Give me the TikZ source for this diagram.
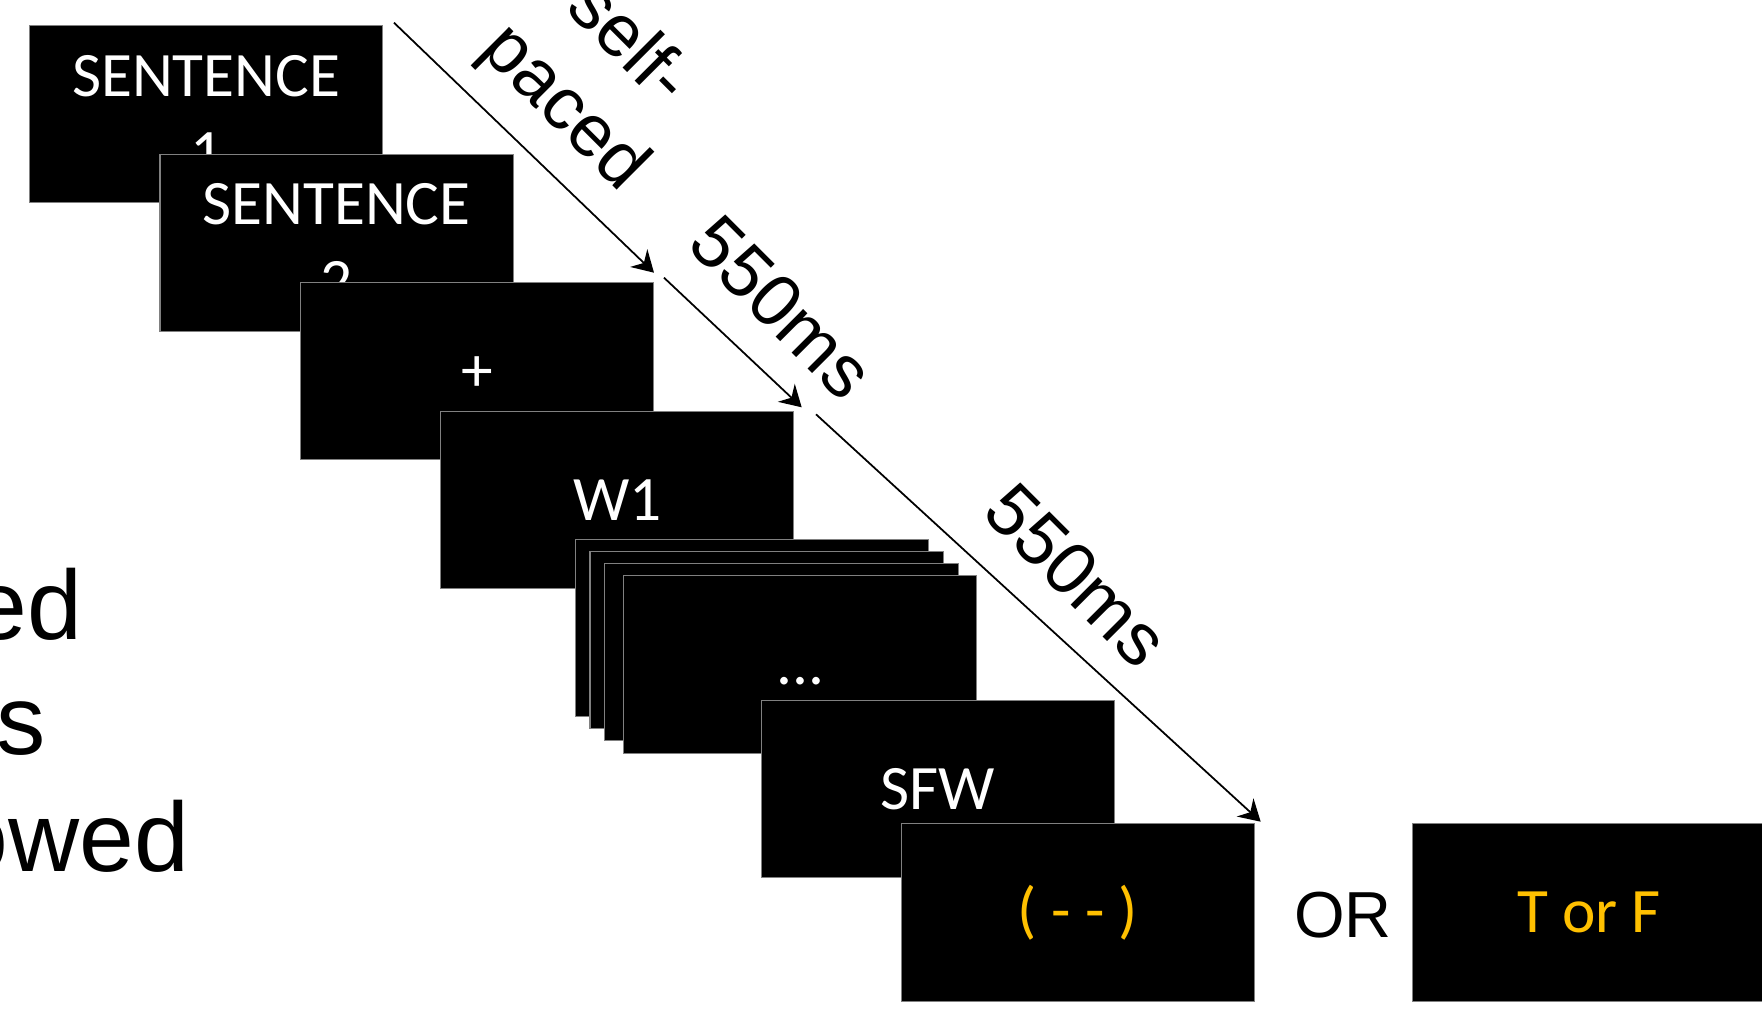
\documentclass[tikz,border=0pt]{standalone}
\usepackage{fontspec}
\setmainfont{Liberation Sans}
\newfontfamily\screenfont{Carlito}
\usetikzlibrary{arrows.meta}
\definecolor{respgold}{RGB}{255,192,0}

\begin{document}
\begin{tikzpicture}[x=0.01cm, y=-0.01cm,
        screen/.style={rectangle, draw=gray, line width=0.3pt, fill=black, text=white, minimum width=3.53cm, minimum height=1.77cm, inner sep=0pt, align=center, font=\screenfont\fontsize{18}{22}\selectfont},
        timing/.style={rotate=-45, align=center, inner sep=0pt, font=\fontsize{21}{25.6}\selectfont},
        tarrow/.style={-{Stealth[length=6pt, width=7pt, inset=2pt]}, line width=0.5pt},
        bigtext/.style={anchor=base east, inner sep=0pt, font=\fontsize{28}{32}\selectfont}
    ]
        \useasboundingbox (0,0) rectangle (1762,1012);

        % Text cut off at the left
        \node[bigtext] (l1) at (83,639) {ed};
        \node[bigtext] (l2) at (46,754) {s};
        \node[bigtext] (l3) at (190,871) {owed};

        % Sentences
        \node[screen] (sent1) at (206.2,114.3) {SENTENCE\\1};
        \node[screen] (sent2) at (336.6,243) {SENTENCE\\2};

        % Fixation and words
        \node[screen] (fix) at (477.2,371) {\vphantom{S}+};
        \node[screen] (word1) at (617.2,499.7) {W1};
        \node[screen] (wa) at (752.1,628) {};
        \node[screen] (wb) at (766.6,640.4) {};
        \node[screen] (wc) at (781.5,651.8) {};
        \node[screen] (wd) at (800.1,664.5) {\vphantom{S}...};
        \node[screen] (sfw) at (938,789) {SFW};

        % Response
        \node[screen, text=respgold] (prompt) at (1077.9,912.5) {( - - )};
        \node (or) at (1342.8,915.5) {\fontsize{18.5}{22}\selectfont OR};
        \node[screen, text=respgold] (tf) at (1589,912.5) {T or F};

        % Timing arrows
        \coordinate (a1s) at (394,22.7);
        \coordinate (a1e) at (654,272.7);
        \coordinate (a2s) at (664,277.7);
        \coordinate (a2e) at (801.7,407.3);
        \coordinate (a3s) at (816,414.3);
        \coordinate (a3e) at (1260.7,821.7);

        \draw[tarrow] (a1s) -- (a1e);
        \draw[tarrow] (a2s) -- (a2e);
        \draw[tarrow] (a3s) -- (a3e);

        \node[timing] (selfpaced) at (595,77) {self-\\paced};
        \node[timing] (lag1) at (782,307) {550ms};
        \node[timing] (lag2) at (1077,575) {550ms};
    \end{tikzpicture}
\end{document}
